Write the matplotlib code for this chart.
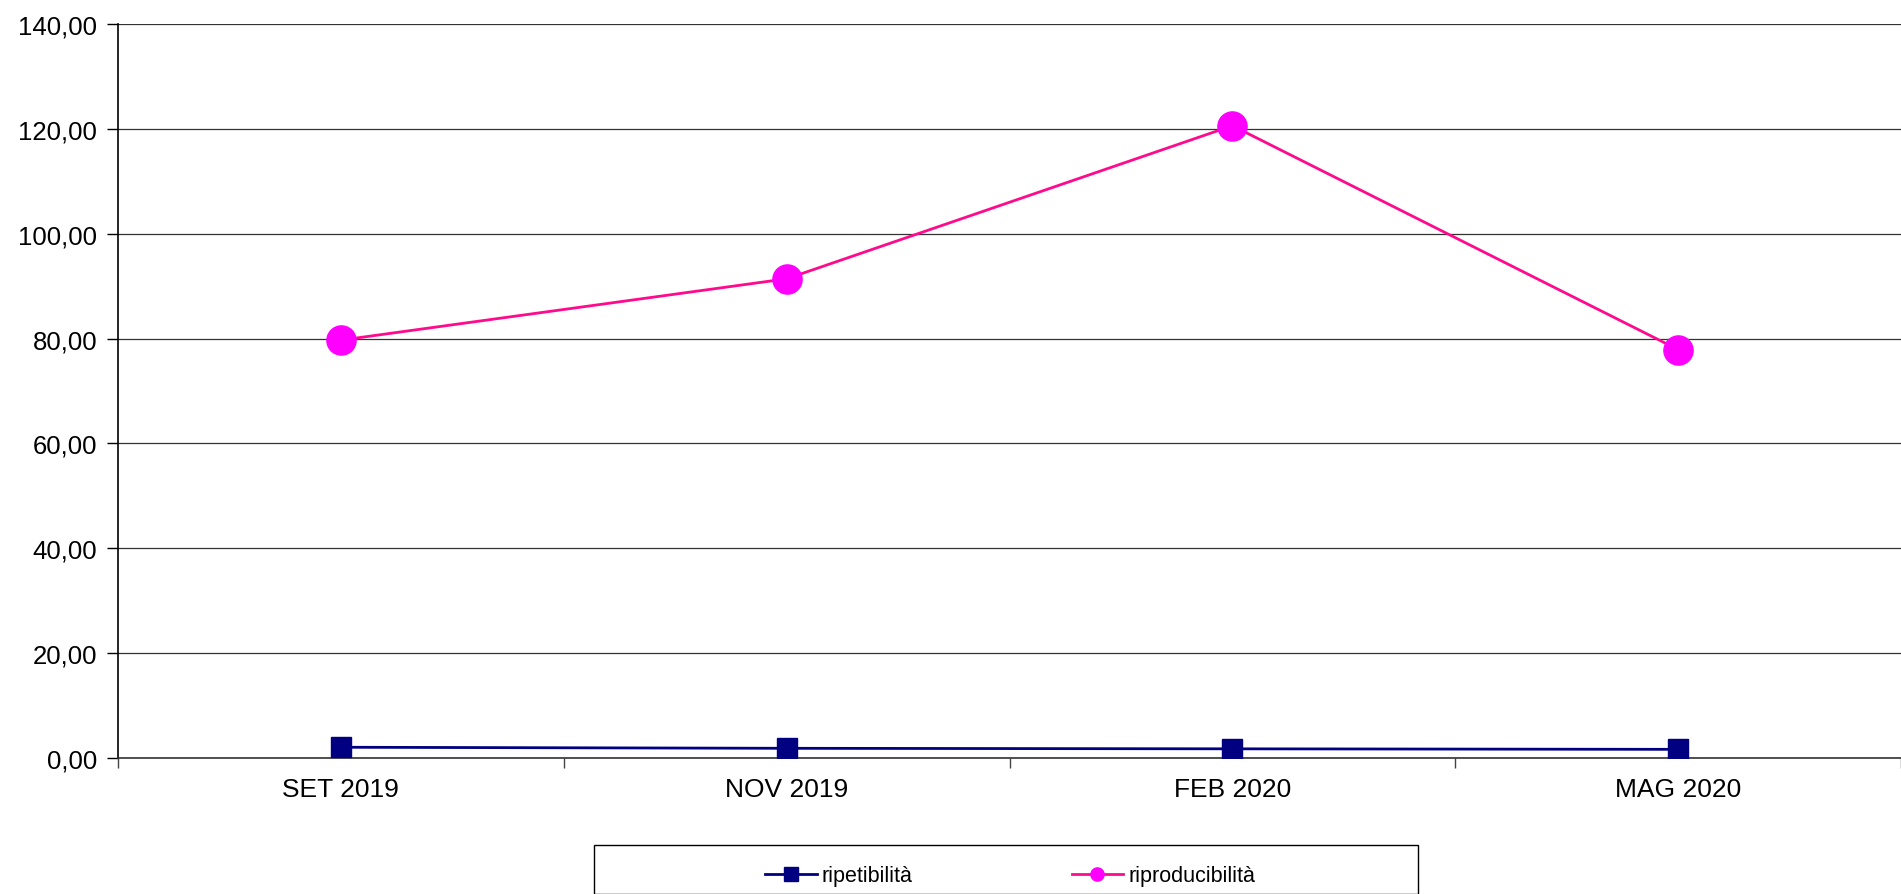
import matplotlib
matplotlib.use("Agg")
import matplotlib.pyplot as plt
from matplotlib.patches import Rectangle
from matplotlib.ticker import FixedLocator, FuncFormatter

categories = ["SET 2019", "NOV 2019", "FEB 2020", "MAG 2020"]
ripetibilita = [2.05, 1.85, 1.75, 1.65]
riproducibilita = [79.7, 91.4, 120.6, 77.9]
y_ticks = [0, 20, 40, 60, 80, 100, 120, 140]

plt.rcParams['font.family'] = ['Liberation Sans', 'DejaVu Sans']

W, H = 1901, 895
fig = plt.figure(figsize=(W / 100, H / 100), dpi=100)
ax = fig.add_axes([118 / W, (H - 759) / H, (W - 118) / W, (759 - 25) / H])

x = list(range(len(categories)))
ax.plot(x, ripetibilita, color="#000080", lw=2, marker="s", markersize=15,
        markerfacecolor="#000080", markeredgecolor="#000080", label="ripetibilità", zorder=3)
ax.plot(x, riproducibilita, color="#FF0A8C", lw=2, marker="o", markersize=21,
        markerfacecolor="#FF00FF", markeredgecolor="#FF00FF", label="riproducibilità", zorder=3)

ax.set_xlim(-0.5, len(categories) - 0.5)
ax.set_ylim(0, 140)
ax.set_yticks(y_ticks)
ax.yaxis.set_major_formatter(FuncFormatter(lambda v, p: f"{v:.2f}".replace(".", ",")))
ax.set_xticks(x)
ax.set_xticklabels(categories)
ax.xaxis.set_minor_locator(FixedLocator([i - 0.5 for i in range(len(categories) + 1)]))
ax.tick_params(axis="x", which="major", length=0, labelsize=19, pad=14)
ax.tick_params(axis="x", which="minor", length=7, width=1, color="#444444")
ax.tick_params(axis="y", length=8, width=1, labelsize=18.5, pad=7)

ax.grid(axis="y", color="#333333", lw=0.9)
ax.set_axisbelow(True)
for s in ["top", "right"]:
    ax.spines[s].set_visible(False)
ax.spines["left"].set_color("#000000")
ax.spines["left"].set_linewidth(1.2)
ax.spines["bottom"].set_color("#333333")
ax.spines["bottom"].set_linewidth(1.2)

# legend frame
rect = Rectangle((594 / W, 0), (1418 - 594) / W, (H - 855) / H + 0.01,
                 transform=fig.transFigure, fill=False, edgecolor="#000000", lw=1.0,
                 clip_on=False)
fig.add_artist(rect)
handles, labels = ax.get_legend_handles_labels()
leg = fig.legend(handles, labels, loc="center", bbox_to_anchor=(1010 / W, (H - 877) / H),
                 ncol=2, frameon=False, fontsize=15.5, columnspacing=7.4,
                 handlelength=2.4, handletextpad=0.22, markerscale=1.0)
leg.legend_handles[0].set_markersize(10)
leg.legend_handles[1].set_markersize(9.5)

fig.savefig("out.png", dpi=100)
